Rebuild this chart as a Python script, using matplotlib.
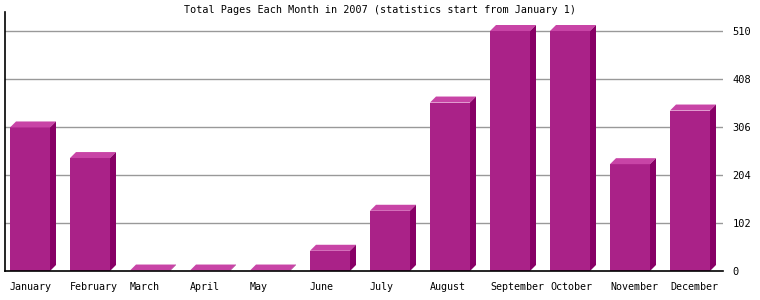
import matplotlib
matplotlib.use("Agg")
import matplotlib.pyplot as plt
from matplotlib.patches import Polygon

months = ["January", "February", "March", "April", "May", "June", "July",
          "August", "September", "October", "November", "December"]
pages = [305, 240, 1, 1, 1, 43, 128, 358, 510, 510, 227, 341]
yticks = [0, 102, 204, 306, 408, 510]
title = "Total Pages Each Month in 2007 (statistics start from January 1)"

FRONT = "#aa2288"
TOP = "#c844a6"
SIDE = "#880066"
W, H = 760, 300
fig = plt.figure(figsize=(7.6, 3.0), dpi=100)
x0, x1 = 5, 723
y_base, y_top = 271, 12
ax = fig.add_axes([x0 / W, (H - y_base) / H, (x1 - x0) / W, (y_base - y_top) / H])
px_per_val = 48 / 102.0
ymax = (y_base - y_top) / px_per_val
ax.set_ylim(0, ymax)
ax.set_xlim((x0 - 30) / 60.0, (x1 - 30) / 60.0)

bw = 40 / 60.0
dx = 6 / 60.0
dy = 6 / px_per_val
mono = "DejaVu Sans Mono"

for yt in yticks[1:]:
    ax.axhline(yt, color="#999999", lw=1.0, zorder=0)

for i, v in enumerate(pages):
    left = i - bw / 2
    ax.bar(i, v, width=bw, color=FRONT, linewidth=0, zorder=2)
    top = Polygon([(left, v), (left + bw, v), (left + bw + dx, v + dy), (left + dx, v + dy)],
                  closed=True, facecolor=TOP, edgecolor="none", zorder=2)
    side = Polygon([(left + bw, 0), (left + bw, v), (left + bw + dx, v + dy), (left + bw + dx, dy)],
                   closed=True, facecolor=SIDE, edgecolor="none", zorder=2)
    ax.add_patch(top)
    ax.add_patch(side)
    ax.text(left, -16.5 / px_per_val, months[i], ha="left", va="center", fontsize=7.2, family=mono,
            transform=ax.transData, clip_on=False)

for s in ["top", "right"]:
    ax.spines[s].set_visible(False)
ax.spines["left"].set_color("black")
ax.spines["left"].set_linewidth(1.2)
ax.spines["bottom"].set_color("black")
ax.spines["bottom"].set_linewidth(1.2)
ax.spines["bottom"].set_zorder(3)

ax.set_xticks([])
ax.yaxis.tick_right()
ax.set_yticks(yticks)
ax.set_yticklabels([str(t) for t in yticks], family=mono, fontsize=7.5)
ax.tick_params(axis="y", length=0, pad=7)
ax.tick_params(axis="y", which="both", left=False)

fig.text(380 / W, 1 - 10 / H, title, ha="center", va="center", fontsize=7.3, family=mono)

fig.savefig("out.png", dpi=100, facecolor="white")
